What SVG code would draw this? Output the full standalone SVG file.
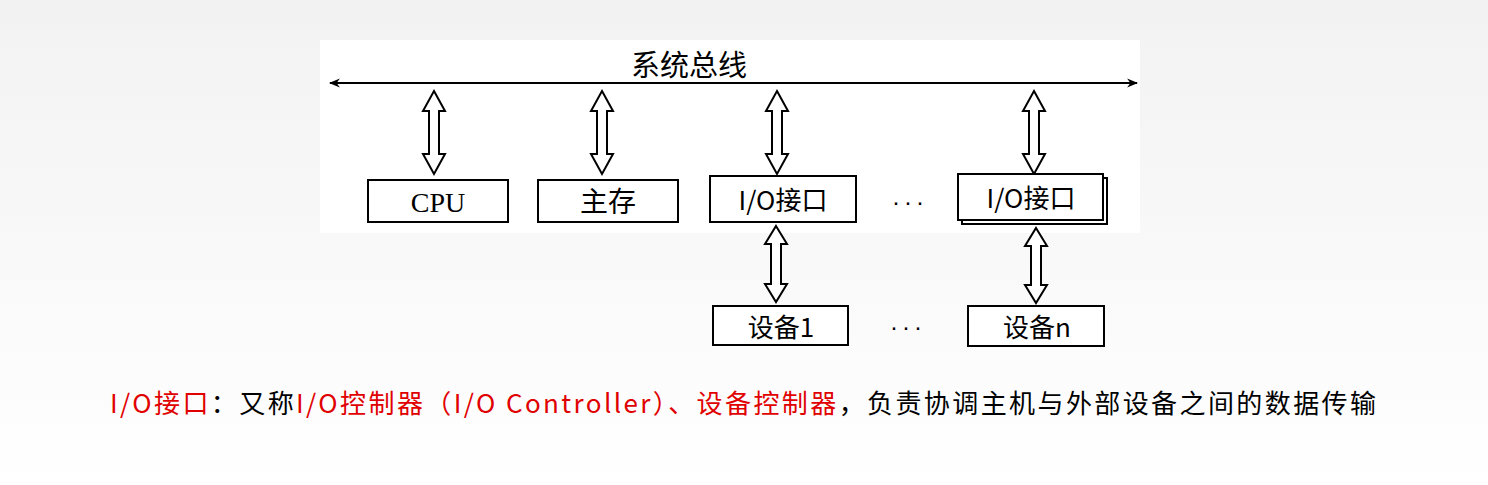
<svg xmlns="http://www.w3.org/2000/svg" width="1488" height="485" viewBox="0 0 1488 485">
<defs>
<linearGradient id="bg" x1="0" y1="0" x2="0" y2="1"><stop offset="0" stop-color="#f2f2f2"/><stop offset="1" stop-color="#ffffff"/></linearGradient>
<marker id="ah" viewBox="0 0 10 10" refX="9" refY="5" markerWidth="11" markerHeight="11" markerUnits="userSpaceOnUse" orient="auto-start-reverse"><path d="M0,1 L10,5 L0,9 L3,5 Z" fill="#000"/></marker>
</defs>
<style>
.box{fill:#fff;stroke:#000;stroke-width:2}
.da{fill:#fff;stroke:#000;stroke-width:2;stroke-linejoin:miter}
.t{font-family:"Liberation Serif","Noto Sans CJK SC",serif;font-size:28px;text-anchor:middle}
.s{font-family:"Noto Sans CJK SC","Noto Sans",sans-serif;font-size:26px;text-anchor:middle}
.cap{font-family:"Noto Sans CJK SC","Noto Sans",sans-serif;font-size:26px}
.dots{font-family:"Liberation Sans",sans-serif;font-size:24px;text-anchor:middle;letter-spacing:4px}
</style>
<rect width="1488" height="485" fill="url(#bg)"/>
<rect x="320" y="40" width="820" height="193" fill="#fff"/>
<g id="connectors">
<line x1="330" y1="83" x2="1137" y2="83" stroke="#000" stroke-width="2" marker-start="url(#ah)" marker-end="url(#ah)"/>
<path class="da" transform="translate(434,0)" d="M0,91 L11,111 L5,111 L5,154 L11,154 L0,174 L-11,154 L-5,154 L-5,111 L-11,111 Z"/>
<path class="da" transform="translate(602,0)" d="M0,91 L11,111 L5,111 L5,154 L11,154 L0,174 L-11,154 L-5,154 L-5,111 L-11,111 Z"/>
<path class="da" transform="translate(777,0)" d="M0,91 L11,111 L5,111 L5,154 L11,154 L0,174 L-11,154 L-5,154 L-5,111 L-11,111 Z"/>
<path class="da" transform="translate(1034,0)" d="M0,91 L11,111 L5,111 L5,154 L11,154 L0,174 L-11,154 L-5,154 L-5,111 L-11,111 Z"/>
<path class="da" transform="translate(776,0)" d="M0,226 L11,244 L5,244 L5,284 L11,284 L0,302 L-11,284 L-5,284 L-5,244 L-11,244 Z"/>
<path class="da" transform="translate(1036,0)" d="M0,228 L11,246 L5,246 L5,285 L11,285 L0,303 L-11,285 L-5,285 L-5,246 L-11,246 Z"/>
</g>
<text class="s" x="689" y="76" style="font-size:29px">系统总线</text>
<g id="cpu"><rect class="box" x="368" y="180" width="140" height="42"/><text class="t" x="438" y="212">CPU</text></g>
<g id="mem"><rect class="box" x="538" y="180" width="140" height="42"/><text class="t" x="608" y="212">主存</text></g>
<g id="io1"><rect class="box" x="710" y="176" width="146" height="46"/><text class="s" x="783" y="210">I/O接口</text></g>
<text class="dots" x="910" y="210">···</text>
<g id="io2"><rect x="962" y="178" width="145" height="46" fill="#fff" stroke="#000" stroke-width="2"/><rect class="box" x="958" y="174" width="145" height="46"/><text class="s" x="1031" y="208">I/O接口</text></g>
<g id="dev1"><rect class="box" x="713" y="306" width="135" height="39"/><text class="s" x="781" y="337">设备1</text></g>
<text class="dots" x="908" y="335">···</text>
<g id="devn"><rect class="box" x="968" y="306" width="136" height="40"/><text class="s" x="1037" y="337">设备n</text></g>
<text class="cap" x="110" y="413" textLength="1266" lengthAdjust="spacing"><tspan fill="#e00000">I/O接口</tspan><tspan fill="#000">：又称</tspan><tspan fill="#e00000">I/O控制器（I/O Controller）、设备控制器</tspan><tspan fill="#000">，负责协调主机与外部设备之间的数据传输</tspan></text>
</svg>
